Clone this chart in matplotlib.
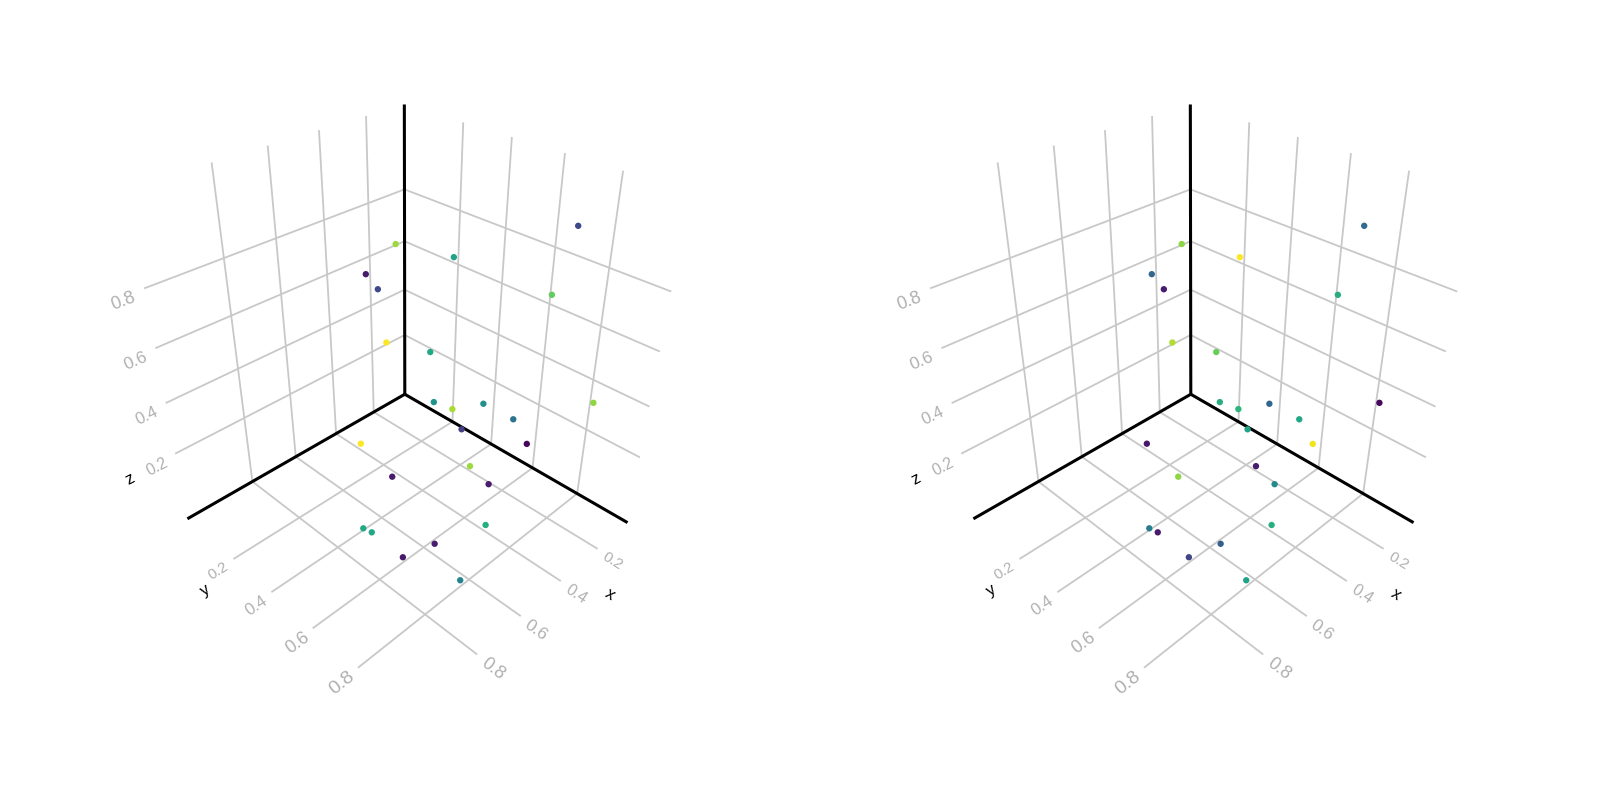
"""Two 3D scatter panels sharing point positions, coloured by different values."""

import math

import matplotlib
matplotlib.use("Agg")
import matplotlib.pyplot as plt
from mpl_toolkits.mplot3d import proj3d

# Point positions, shared by both panels
x = [0.438, 0.590, 0.576, 0.600, 0.221, 0.392, 0.319, 0.522, 0.516, 0.485, 0.432, 0.192, 0.373,
     0.474, 0.340, 0.528, 0.504, 0.750, 0.588, 0.778, 0.878, 0.757, 0.725, 0.878, 0.874]
y = [0.312, 0.343, 0.378, 0.436, 0.803, 0.506, 0.808, 0.541, 0.554, 0.603, 0.680, 0.911, 0.752,
     0.634, 0.787, 0.720, 0.777, 0.611, 0.842, 0.812, 0.784, 0.896, 0.448, 0.620, 0.652]
z = [0.852, 0.818, 0.777, 0.632, 0.997, 0.860, 0.825, 0.611, 0.435, 0.418, 0.450, 0.449, 0.399,
     0.352, 0.306, 0.288, 0.237, 0.314, 0.169, 0.203, 0.201, 0.103, 0.332, 0.201, 0.204]

# Colour values, one list per panel
color_left = [0.85, 0.07, 0.22, 1.00, 0.22, 0.58, 0.76, 0.60, 0.52, 0.87, 0.50, 0.83, 0.38,
              0.18, 0.02, 0.85, 0.08, 0.07, 0.62, 0.08, 0.07, 0.45, 1.00, 0.60, 0.60]
color_right = [0.83, 0.33, 0.08, 0.88, 0.35, 1.00, 0.62, 0.77, 0.63, 0.65, 0.33, 0.02, 0.60,
               0.58, 0.98, 0.07, 0.48, 0.83, 0.63, 0.30, 0.20, 0.58, 0.06, 0.42, 0.07]

ticks = [0.2, 0.4, 0.6, 0.8]
tick_labels = ["0.2", "0.4", "0.6", "0.8"]

xlim = (0.0243, 1.0750)
ylim = (-0.0668, 1.0094)
zlim = (-0.0830, 1.0990)

# Camera and placement, in figure pixels
ELEV, AZIM, FOCAL = 33.8613, 45.028, 0.2660
BOX = (0.8806, 0.9019, 1.0)
SCALE = 3314.02
CX_LEFT, CX_RIGHT, CY = 406.89, 1192.89, 375.72
FIG_W, FIG_H = 1600, 800

PAD = 0.06
PAD_Z = 0.07
LABEL_PAD = 0.135
FLOOR_DROP = 0.012
WALL_DROP = 0.015
GRID = "#c8c8c8"
TICK = "#b0b0b0"
FONT = "Liberation Sans"

x_sizes = [11, 11.5, 12.5, 13]
y_sizes = [11, 12, 13, 14]
z_sizes = [11.5, 12, 12.5, 13]


def grid_line(ax, xs, ys, zs):
    ax.plot(xs, ys, zs, color=GRID, lw=1.3, solid_capstyle="butt", zorder=1)


def spine(ax, xs, ys, zs):
    ax.plot(xs, ys, zs, color="black", lw=2.2, solid_capstyle="butt", zorder=2)


def label(ax, pos, step, text, color, size):
    """Put 2D text at a 3D position, turned along the projected direction of step."""
    M = ax.get_proj()
    px, py, _ = proj3d.proj_transform(*pos, M)
    qx, qy, _ = proj3d.proj_transform(pos[0] + step[0], pos[1] + step[1], pos[2] + step[2], M)
    angle = (math.degrees(math.atan2(qy - py, qx - px)) + 90) % 180 - 90
    ax.text2D(px, py, text, transform=ax.transData, color=color, family=FONT, fontsize=size,
              rotation=angle, ha="center", va="center")


def draw_panel(fig, cx, values):
    ax = fig.add_subplot(projection="3d", computed_zorder=False)
    ax.set_axis_off()
    ax.view_init(elev=ELEV, azim=AZIM)
    ax.set_proj_type("persp", focal_length=FOCAL)
    ax.set_box_aspect(BOX)
    ax.set_xlim(*xlim, view_margin=0)
    ax.set_ylim(*ylim, view_margin=0)
    ax.set_zlim(*zlim, view_margin=0)

    along_x, along_y = (0.05, 0, 0), (0, 0.05, 0)
    floor = zlim[0] - FLOOR_DROP
    for i, t in enumerate(ticks):
        # floor
        grid_line(ax, [t, t], ylim, [zlim[0]] * 2)
        grid_line(ax, xlim, [t, t], [zlim[0]] * 2)
        # walls
        grid_line(ax, [t, t], [ylim[0]] * 2, zlim)
        grid_line(ax, [xlim[0]] * 2, [t, t], zlim)
        grid_line(ax, xlim, [ylim[0]] * 2, [t, t])
        grid_line(ax, [xlim[0]] * 2, ylim, [t, t])

        label(ax, (t, ylim[1] + PAD, floor), along_y, tick_labels[i], TICK, x_sizes[i])
        label(ax, (xlim[1] + PAD, t, floor), along_x, tick_labels[i], TICK, y_sizes[i])
        label(ax, (xlim[1] + PAD_Z, ylim[0], t - WALL_DROP), along_x, tick_labels[i], TICK, z_sizes[i])

    spine(ax, xlim, [ylim[0]] * 2, [zlim[0]] * 2)
    spine(ax, [xlim[0]] * 2, ylim, [zlim[0]] * 2)
    spine(ax, [xlim[0]] * 2, [ylim[0]] * 2, zlim)

    ax.scatter(x, y, z, c=values, cmap="viridis", vmin=0, vmax=1, s=21,
               linewidths=0, depthshade=False, zorder=3)

    label(ax, (0.326, ylim[1] + LABEL_PAD, floor), along_y, "x", "black", 12)
    label(ax, (xlim[1] + LABEL_PAD, 0.238, floor), along_x, "y", "black", 12)
    label(ax, (xlim[1] + 0.165, ylim[0], 0.19), along_x, "z", "black", 12)

    # place the axes so the camera centre lands on (cx, CY) at the fitted scale
    x0, x1 = ax.viewLim.intervalx
    y0, y1 = ax.viewLim.intervaly
    left = cx + SCALE * x0
    bottom = FIG_H - CY + SCALE * y0
    ax.set_position([left / FIG_W, bottom / FIG_H,
                     SCALE * (x1 - x0) / FIG_W, SCALE * (y1 - y0) / FIG_H])
    return ax


fig = plt.figure(figsize=(16, 8), dpi=100, facecolor="white")
draw_panel(fig, CX_LEFT, color_left)
draw_panel(fig, CX_RIGHT, color_right)
fig.savefig("out.png", dpi=100)
